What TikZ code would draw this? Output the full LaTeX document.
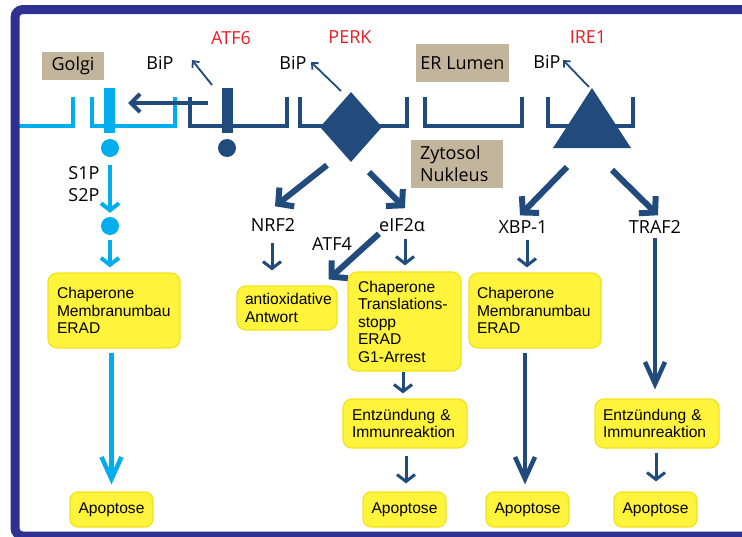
\documentclass[tikz,border=0pt]{standalone}
\usepackage{fontspec}
\usetikzlibrary{arrows.meta,shapes.geometric}
\newfontfamily\lblfamily{Open Sans}
\newfontfamily\boxfamily{Liberation Sans}
\definecolor{frameblue}{HTML}{2E3192}
\definecolor{erblue}{HTML}{214A7D}
\definecolor{lightblue}{HTML}{00AEEF}
\definecolor{tanbg}{HTML}{C2B59B}
\definecolor{yfill}{HTML}{FFF33B}
\definecolor{yline}{HTML}{F2E21C}
\definecolor{lblred}{HTML}{ED1C24}
\newcommand\lblfont{\lblfamily\fontsize{18}{22}\selectfont}
\newcommand\boxfont{\boxfamily\fontsize{15.6}{17.5}\selectfont\hyphenpenalty=10000\exhyphenpenalty=10000\relax}
\begin{document}
\begin{tikzpicture}[x=1pt,y=-1pt,
  memlight/.style={draw=lightblue,line width=4.5pt},
  memdark/.style={draw=erblue,line width=4.5pt},
  lbl/.style={font=\lblfont,inner sep=0pt},
  redlbl/.style={lbl,text=lblred},
  tanbox/.style={fill=tanbg,font=\lblfont,inner sep=0pt},
  ybox/.style={draw=yline,fill=yfill,line width=1.2pt,rounded corners=9pt,font=\boxfont,inner ysep=0pt,align=left},
  apobox/.style={draw=yline,fill=yfill,line width=1.2pt,rounded corners=8pt,font=\boxfont,inner sep=0pt,minimum width=83pt,minimum height=35pt},
  biparr/.style={draw=erblue,line width=1.8pt,-{Straight Barb[length=5pt,width=9pt]}},
  golgiarr/.style={draw=erblue,line width=4pt,-{Straight Barb[length=9pt,width=18pt]}},
  smallarr/.style={draw=erblue,line width=3pt,-{Straight Barb[length=7pt,width=18pt]}},
  lightsmall/.style={draw=lightblue,line width=4pt,-{Straight Barb[length=7pt,width=18pt]}},
  bigarr/.style={draw=erblue,line width=6pt,-{Straight Barb[length=11pt,width=24pt]}},
  longarr/.style={draw=erblue,line width=4.5pt,-{Straight Barb[length=22pt,width=20pt]}},
  lightlong/.style={draw=lightblue,line width=4.5pt,-{Straight Barb[length=22pt,width=20pt]}},
  protbar/.style={minimum width=11pt,minimum height=45pt,inner sep=0pt},
  protdot/.style={circle,minimum size=18pt,inner sep=0pt}
]
\useasboundingbox (0,0) rectangle (742,536);

% membranes of Golgi and ER
\draw[memlight] (15,126) -- (73,126) -- (73,97);
\draw[memlight] (92,97) -- (92,126) -- (175,126) -- (175,97);
\draw[memdark] (190,97) -- (190,126) -- (287,126) -- (287,97);
\draw[memdark] (300,97) -- (300,126) -- (407,126) -- (407,97);
\draw[memdark] (425,97) -- (425,126) -- (522,126) -- (522,97);
\draw[memdark] (548,97) -- (548,126) -- (633,126) -- (633,97);

% sensor proteins
\node[protbar,fill=lightblue] (golgibar) at (109.5,110.5) {};
\node[protdot,fill=lightblue] (golgidot) at (110,148) {};
\node[protbar,fill=erblue] (atfbar) at (227.5,110.5) {};
\node[protdot,fill=erblue] (atfdot) at (227,148) {};
\node[diamond,fill=erblue,minimum width=62pt,minimum height=70pt,inner sep=0pt] (perk) at (351,127) {};
\fill[erblue] (592,88) -- (631,148) -- (553,148) -- cycle;
\coordinate (ire1base) at (592,148);
\node[protdot,fill=lightblue] (dot2) at (110,226) {};

% outer frame
\begin{scope}
\clip (0,0) rectangle (742,536);
\draw[frameblue,line width=9pt,rounded corners=8pt] (780,9.5) -- (15,9.5) -- (15,536) -- (780,536);
\end{scope}

% compartment labels
\node[tanbox,minimum width=62pt,minimum height=28pt] (golgi) at (73,66) {Golgi};
\node[tanbox,minimum width=93pt,minimum height=38pt] (erlumen) at (462.5,63) {ER Lumen};
\node[tanbox,text width=74pt,inner xsep=9pt,minimum height=48pt,align=left,font=\lblfamily\fontsize{18}{22}\selectfont] (zyto) at (457,164) {Zytosol\\Nukleus};

% sensor names and BiP
\node[redlbl] (atf6) at (231,38) {ATF6};
\node[redlbl] (perkname) at (350,37) {PERK};
\node[redlbl] (ire1) at (588,37) {IRE1};
\node[lbl] (bip1) at (160,63) {BiP};
\node[lbl] (bip2) at (293,63) {BiP};
\node[lbl] (bip3) at (547,62) {BiP};

\coordinate (bipa0) at (212,85);
\coordinate (bipa1) at (192,60);
\coordinate (bipb0) at (341,91);
\coordinate (bipb1) at (311,62);
\coordinate (bipc0) at (589,87);
\coordinate (bipc1) at (563,60);
\draw[biparr] (bipa0) -- (bipa1);
\draw[biparr] (bipb0) -- (bipb1);
\draw[biparr] (bipc0) -- (bipc1);

% ATF6 transport to the Golgi
\draw[golgiarr] ([xshift=-14pt,yshift=7.5pt]atfbar.west) -- ([xshift=13pt,yshift=7.5pt]golgibar.east);

% pathway labels
\node[lbl] (s1p) at (84,173.5) {S1P};
\node[lbl] (s2p) at (84,195.5) {S2P};
\node[lbl] (nrf2) at (273,225) {NRF2};
\node[lbl] (eif) at (402,225) {eIF2α};
\node[lbl] (atf4) at (332,244) {ATF4};
\node[lbl] (xbp) at (523,227) {XBP-1};
\node[lbl] (traf2) at (655,227) {TRAF2};

% outcome boxes
\node[ybox,text width=114pt,inner xsep=9pt,minimum height=75pt] (box1) at (114,310.5) {Chaperone\\Membranumbau\\ERAD};
\node[ybox,text width=84pt,inner xsep=8pt,minimum height=44pt] (antiox) at (287,308) {antioxidative\\Antwort};
\node[ybox,text width=93pt,inner xsep=10pt,minimum height=99pt] (eifbox) at (404.5,321.5) {Chaperone\\Translations-\\stopp\\ERAD\\G1-Arrest};
\node[ybox,text width=116pt,inner xsep=8pt,minimum height=75pt] (xbpbox) at (535,310.5) {Chaperone\\Membranumbau\\ERAD};
\node[ybox,text width=106pt,inner xsep=9pt,minimum height=49pt] (entz1) at (405,423.5) {Entzündung \&\\Immunreaktion};
\node[ybox,text width=108pt,inner xsep=8pt,minimum height=49pt] (entz2) at (657,423.5) {Entzündung \&\\Immunreaktion};
\node[apobox] (apop1) at (111.5,509.5) {Apoptose};
\node[apobox] (apop2) at (404.5,509.5) {Apoptose};
\node[apobox] (apop3) at (527.5,509.5) {Apoptose};
\node[apobox] (apop4) at (655.5,509.5) {Apoptose};

% ATF6 branch
\draw[lightsmall,shorten <=8pt,shorten >=4pt] (golgidot.south) -- (dot2.north);
\draw[lightsmall,shorten <=5pt,shorten >=5pt] (dot2.south) -- (dot2.south |- box1.north);
\draw[lightlong,shorten <=4pt,shorten >=7pt] (apop1.north |- box1.south) -- (apop1.north);

% PERK branch
\draw[bigarr] ([xshift=-24pt,yshift=-3pt]perk.south) -- ([xshift=2pt,yshift=12pt]nrf2.north);
\draw[bigarr] ([xshift=18pt,yshift=-10pt]perk.south) -- ([xshift=3pt,yshift=10pt]eif.north);
\draw[smallarr,shorten <=11.5pt,shorten >=15pt] ([xshift=-1pt]nrf2.south) -- ([xshift=-1pt]nrf2.south |- antiox.north);
\draw[bigarr] ([yshift=-2pt]eif.south west) -- ([xshift=-9pt,yshift=6pt]antiox.north east);
\draw[smallarr,shorten <=7pt,shorten >=6pt] ([xshift=3pt]eif.south) -- ([xshift=3pt]eif.south |- eifbox.north);
\draw[smallarr,shorten >=5pt] ([xshift=-1.5pt]eifbox.south) -- ([xshift=-1.5pt]eifbox.south |- entz1.north);
\draw[smallarr,shorten <=7pt,shorten >=8pt] ([xshift=1.5pt]apop2.north |- entz1.south) -- ([xshift=1.5pt]apop2.north);

% IRE1 branch
\draw[bigarr] ([xshift=-25pt,yshift=-19pt]ire1base) -- ([xshift=-3pt,yshift=5pt]xbp.north);
\draw[bigarr] ([xshift=20pt,yshift=-22pt]ire1base) -- ([xshift=3pt,yshift=5pt]traf2.north);
\draw[smallarr,shorten <=6pt,shorten >=5pt] ([xshift=4pt]xbp.south) -- ([xshift=4pt]xbp.south |- xbpbox.north);
\draw[longarr,shorten <=4pt,shorten >=7pt] ([xshift=-2.5pt]apop3.north |- xbpbox.south) -- ([xshift=-2.5pt]apop3.north);
\draw[longarr,shorten <=4pt,shorten >=9pt] (traf2.south) -- (traf2.south |- entz2.north);
\draw[smallarr,shorten <=4pt,shorten >=10pt] ([xshift=-1pt]entz2.south) -- ([xshift=-1pt]entz2.south |- apop4.north);
\end{tikzpicture}
\end{document}
